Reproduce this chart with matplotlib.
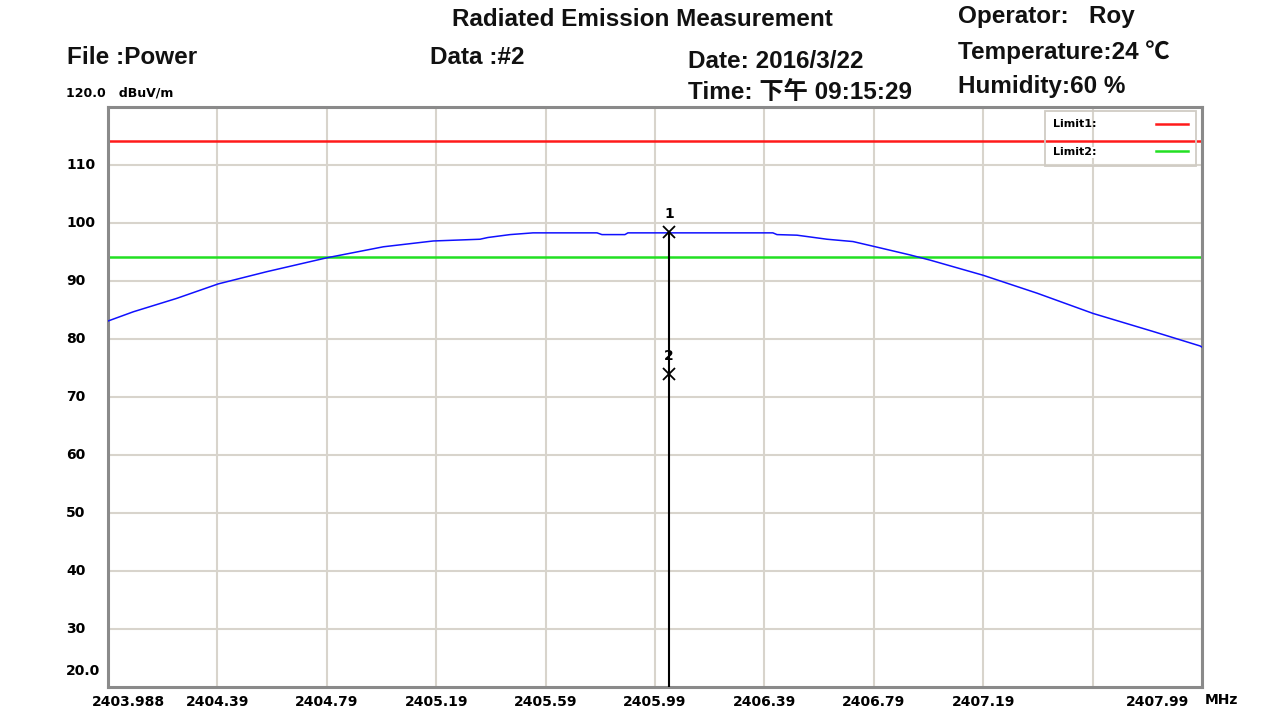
import matplotlib
matplotlib.use("Agg")
import matplotlib.pyplot as plt
import matplotlib.transforms as mtrans

# trace (MHz, dBuV/m)
freq = [2403.988, 2404.081, 2404.239, 2404.391, 2404.568, 2404.788, 2404.995,
        2405.177, 2405.348, 2405.377, 2405.458, 2405.542, 2405.776, 2405.794,
        2405.878, 2405.889, 2406.419, 2406.434, 2406.507, 2406.617, 2406.712,
        2406.785, 2406.920, 2406.994, 2407.187, 2407.385, 2407.590, 2407.809,
        2407.981, 2407.988]
level = [83.1, 84.7, 87.0, 89.5, 91.6, 94.0, 95.9,
         96.9, 97.2, 97.5, 98.0, 98.3, 98.3, 98.0,
         98.0, 98.3, 98.3, 98.0, 97.9, 97.2, 96.8,
         96.0, 94.5, 93.6, 91.0, 87.9, 84.4, 81.3,
         78.8, 78.6]

limit1 = 114.1
limit2 = 94.2

marker_freq = 2406.04
marker_levels = [98.5, 74.0]
marker_names = ["1", "2"]

x_ticks = [2403.988, 2404.388, 2404.788, 2405.188, 2405.588, 2405.988,
           2406.388, 2406.788, 2407.188, 2407.588, 2407.988]
x_labels = ["2403.988", "2404.39", "2404.79", "2405.19", "2405.59", "2405.99",
            "2406.39", "2406.79", "2407.19", "", "2407.99"]
y_ticks = [30, 40, 50, 60, 70, 80, 90, 100, 110]

W, H = 1269, 717
fig = plt.figure(figsize=(W / 100, H / 100), dpi=100)
ax = fig.add_axes([108 / W, 30 / H, 1094 / W, 580 / H])

ax.set_xlim(2403.988, 2407.988)
ax.set_ylim(20, 120)

ax.plot(freq, level, color="#1010ff", lw=1.1, zorder=3)
l1, = ax.plot([2403.988, 2407.988], [limit1, limit1], color="#ff1a1a", lw=1.8, zorder=2)
l2, = ax.plot([2403.988, 2407.988], [limit2, limit2], color="#22e022", lw=1.8, zorder=2)

# marker line + markers
ax.plot([marker_freq, marker_freq], [marker_levels[0], 20], color="black", lw=1.5, zorder=4)
for name, lv in zip(marker_names, marker_levels):
    ax.plot(marker_freq, lv, marker="x", color="black", ms=8, mew=1.3, zorder=5)
    ax.text(marker_freq, lv + 1.8, name, ha="center", va="bottom",
            fontsize=10, fontweight="bold", family="DejaVu Sans", zorder=5)

# grid / frame
ax.set_xticks(x_ticks)
ax.set_xticklabels(x_labels)
ax.set_yticks(y_ticks)
ax.set_yticklabels([])
ax.grid(True, color="#d8d4cc", lw=1.5, zorder=0)
ax.tick_params(length=0, pad=6)
for lab in ax.get_xticklabels():
    lab.set_fontsize(10)
    lab.set_fontweight("bold")
    lab.set_family("DejaVu Sans")
labs = ax.get_xticklabels()
labs[0].set_ha("left")
labs[0].set_transform(labs[0].get_transform() + mtrans.ScaledTranslation(-0.16, 0, fig.dpi_scale_trans))
labs[-1].set_ha("right")
labs[-1].set_transform(labs[-1].get_transform() + mtrans.ScaledTranslation(-0.13, 0, fig.dpi_scale_trans))
for s in ax.spines.values():
    s.set_color("#8a8a8a")
    s.set_linewidth(2.2)

# y labels left-aligned
ytr = mtrans.blended_transform_factory(fig.transFigure, ax.transData)
for v in y_ticks:
    ax.text(66 / W, v, str(v), transform=ytr, ha="left", va="center",
            fontsize=10, fontweight="bold", family="DejaVu Sans")
ax.text(66 / W, 22.8, "20.0", transform=ytr, ha="left", va="center",
        fontsize=10, fontweight="bold", family="DejaVu Sans")

fig.text(1205 / W, 1 - 700 / H, "MHz", ha="left", va="center",
         fontsize=10, fontweight="bold", family="DejaVu Sans")

# legend
leg = ax.legend([l1, l2], ["Limit1:", "Limit2:"], loc="upper right",
                bbox_to_anchor=(0.9954, 0.9948), borderaxespad=0.1,
                markerfirst=False,
                prop={"family": "DejaVu Sans", "weight": "bold", "size": 8},
                handlelength=2.8, handletextpad=5.4, labelspacing=1.6,
                borderpad=0.75, fancybox=False)
frame = leg.get_frame()
frame.set_facecolor("none")
frame.set_edgecolor("#d0ccc4")
frame.set_alpha(None)
frame.set_linewidth(1.3)
leg.get_texts()[1].set_bbox(dict(facecolor="white", edgecolor="none", pad=0.5))

# header
def head(px, py, s, **kw):
    fig.text(px / W, 1 - py / H, s, ha="left", va="center", fontsize=17.5,
             fontweight="bold", family=["Liberation Sans", "Noto Sans CJK SC"],
             color="#111111", **kw)

head(452, 19, "Radiated Emission Measurement")
head(958, 16, "Operator:   Roy")
head(67, 58, "File :Power")
head(430, 58, "Data :#2")
head(688, 61, "Date: 2016/3/22")
head(958, 52, "Temperature:24 ℃")
head(688, 92, "Time: 下午 09:15:29")
head(958, 86, "Humidity:60 %")
fig.text(66 / W, 1 - 93 / H, "120.0   dBuV/m", ha="left", va="center",
         fontsize=9, fontweight="bold", family="DejaVu Sans")

fig.savefig("out.png", dpi=100)
